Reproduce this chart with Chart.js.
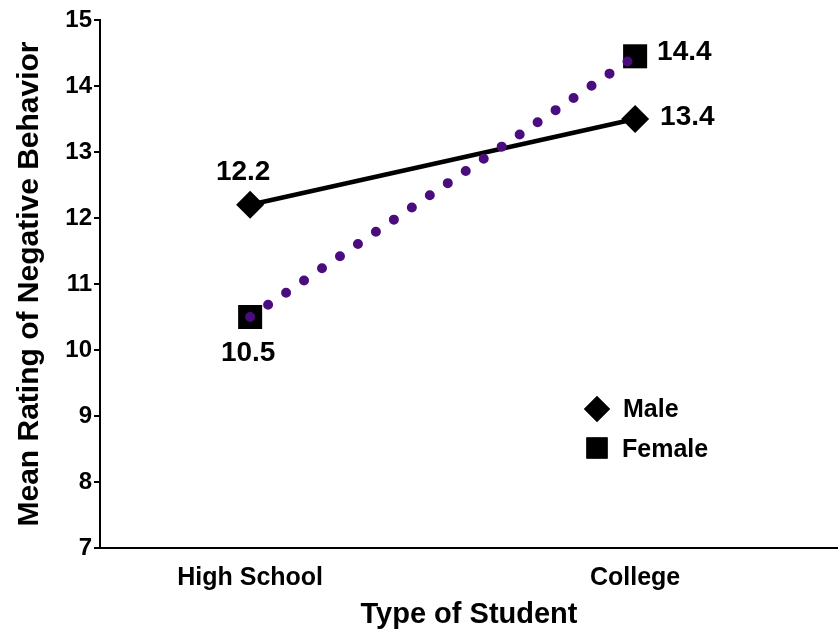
<!DOCTYPE html>
<html>
<head>
<meta charset="utf-8">
<script src="https://cdn.jsdelivr.net/npm/chart.js@4.4.0/dist/chart.umd.min.js"></script>
<style>
  html, body { margin: 0; padding: 0; background: #fff; overflow: hidden; }
  #wrap { width: 838px; height: 638px; }
</style>
</head>
<body>
<div id="wrap"><canvas id="chart"></canvas></div>
<script>
const categories = ['High School', 'College'];
const maleValues = [12.2, 13.5];
const femaleValues = [10.5, 14.45];
const maleLabels = ['12.2', '13.4'];
const femaleLabels = ['10.5', '14.4'];
const yTicks = [7, 8, 9, 10, 11, 12, 13, 14, 15];
const seriesNames = ['Male', 'Female'];

const FONT = '"Liberation Sans", Arial, sans-serif';
const PURPLE = '#4b0c7e';

// points as {x, y} so the x axis can be linear (categories sit off-centre)
const toPoints = (vals) => vals.map((v, i) => ({ x: i, y: v }));

const labelsPlugin = {
    id: 'valueLabels',
    afterDatasetsDraw(chart) {
        const ctx = chart.ctx;
        const female = chart.getDatasetMeta(1).data;
        const male = chart.getDatasetMeta(2).data;
        const area = chart.chartArea;

        ctx.save();
        ctx.fillStyle = '#000';
        ctx.textBaseline = 'middle';
        ctx.font = 'bold 28px ' + FONT;

        ctx.textAlign = 'center';
        ctx.fillText(maleLabels[0], male[0].x - 7, male[0].y - 33);
        ctx.fillText(femaleLabels[0], female[0].x - 2, female[0].y + 36);
        ctx.textAlign = 'left';
        ctx.fillText(maleLabels[1], male[1].x + 25, male[1].y - 2);
        ctx.fillText(femaleLabels[1], female[1].x + 22, female[1].y - 4);

        // legend, bottom right of plot
        const lx = area.left + 497;
        const ly = area.top + 389;
        ctx.fillStyle = '#000';
        Chart.helpers.drawPoint(ctx, { pointStyle: 'rectRot', radius: 13, borderWidth: 0 }, lx, ly);
        ctx.fill();
        Chart.helpers.drawPoint(ctx, { pointStyle: 'rect', radius: 15, borderWidth: 0 }, lx, ly + 39);
        ctx.fill();
        ctx.font = 'bold 25px ' + FONT;
        ctx.fillText(seriesNames[0], lx + 26, ly + 1);
        ctx.fillText(seriesNames[1], lx + 25, ly + 41);
        ctx.restore();
    }
};

new Chart(document.getElementById('chart'), {
    type: 'line',
    data: {
        datasets: [
            {
                label: seriesNames[1] + ' line',
                data: toPoints(femaleValues),
                borderColor: PURPLE,
                borderWidth: 10,
                borderDash: [0, 21.7],
                borderCapStyle: 'round',
                pointRadius: 0,
                fill: false,
                clip: false
            },
            {
                label: seriesNames[1],
                data: toPoints(femaleValues),
                showLine: false,
                pointStyle: 'rect',
                pointRadius: 17,
                pointBackgroundColor: '#000',
                pointBorderWidth: 0,
                clip: false
            },
            {
                label: seriesNames[0],
                data: toPoints(maleValues),
                borderColor: '#000',
                borderWidth: 4.5,
                pointStyle: 'rectRot',
                pointRadius: 14,
                pointBackgroundColor: '#000',
                pointBorderWidth: 0,
                fill: false,
                clip: false
            }
        ]
    },
    options: {
        responsive: true,
        maintainAspectRatio: false,
        animation: false,
        devicePixelRatio: 1,
        layout: { autoPadding: false, padding: { top: 20, right: 0, bottom: 0, left: 0 } },
        plugins: {
            legend: { display: false },
            tooltip: { enabled: false }
        },
        scales: {
            x: {
                type: 'linear',
                min: -0.39,
                max: 1.527,
                afterBuildTicks: (scale) => {
                    scale.ticks = categories.map((_, i) => ({ value: i }));
                },
                afterFit: (scale) => {
                    scale.height = 90;
                },
                grid: { display: false },
                border: { display: true, color: '#000', width: 2 },
                ticks: {
                    color: '#000',
                    font: { family: FONT, size: 25, weight: 'bold' },
                    padding: 7,
                    maxRotation: 0,
                    callback: (v) => categories[v]
                },
                title: {
                    display: true,
                    text: 'Type of Student',
                    color: '#000',
                    font: { family: FONT, size: 29, weight: 'bold' },
                    padding: { top: 4, bottom: 6 }
                }
            },
            y: {
                min: yTicks[0],
                max: yTicks[yTicks.length - 1],
                afterBuildTicks: (scale) => {
                    scale.ticks = yTicks.map(v => ({ value: v }));
                },
                afterFit: (scale) => { scale.width = 100; },
                grid: {
                    drawOnChartArea: false,
                    drawTicks: true,
                    tickLength: 6,
                    color: '#000',
                    lineWidth: 2
                },
                border: { display: true, color: '#000', width: 2 },
                ticks: {
                    color: '#000',
                    font: { family: FONT, size: 24, weight: 'bold' },
                    padding: 2
                },
                title: {
                    display: true,
                    text: 'Mean Rating of Negative Behavior',
                    color: '#000',
                    font: { family: FONT, size: 30, weight: 'bold' },
                    padding: { top: 12, bottom: 0 }
                }
            }
        }
    },
    plugins: [labelsPlugin]
});
</script>
</body>
</html>
